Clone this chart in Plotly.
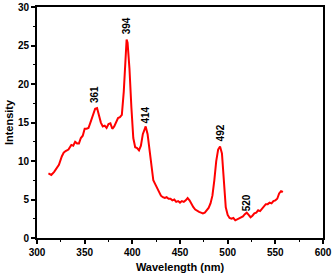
import plotly.graph_objects as go

wavelength = [312, 315, 318, 320, 323, 326, 328, 330, 333, 336, 338, 340, 342, 344, 346, 348, 350, 352,
              354, 356, 358, 360, 361, 363, 365, 367, 369, 371, 373, 375, 377, 379, 381, 383, 385, 387,
              389, 391, 393, 394, 395, 397, 399, 401, 403, 405, 407, 409, 411, 413, 414, 416, 418, 420,
              422, 424, 426, 428, 430, 432, 434, 436, 438, 440, 442, 444, 446, 448, 450, 452, 454, 456,
              458, 460, 462, 464, 466, 468, 470, 472, 474, 476, 478, 480, 482, 484, 486, 488, 490, 492,
              494, 496, 498, 500, 502, 504, 506, 508, 510, 512, 514, 516, 518, 520, 522, 524, 526, 528,
              530, 532, 534, 536, 538, 540, 542, 544, 546, 548, 550, 552, 554, 556, 558]
intensity = [8.4, 8.2, 8.6, 9.0, 9.5, 10.6, 11.1, 11.3, 11.5, 12.1, 12.0, 12.5, 12.3, 12.3, 13.0, 13.3, 14.2, 14.2,
             14.3, 15.0, 15.8, 16.3, 16.8, 16.9, 16.0, 15.0, 14.5, 14.6, 14.3, 14.8, 14.9, 14.2, 14.5, 15.0, 15.6, 15.7,
             16.0, 19.0, 24.5, 25.8, 25.4, 22.0, 17.0, 13.0, 11.8, 11.7, 11.4, 12.0, 13.5, 14.3, 14.5, 13.5, 11.5, 9.5,
             7.5, 7.0, 6.5, 6.0, 5.5, 5.3, 5.2, 5.3, 5.1, 5.1, 4.9, 5.0, 4.7, 4.8, 4.6, 4.8, 4.7, 4.9,
             5.2, 4.9, 4.4, 4.0, 3.7, 3.5, 3.4, 3.3, 3.2, 3.3, 3.6, 3.9, 4.5, 5.5, 7.5, 10.0, 11.5, 11.9,
             11.0, 7.0, 4.0, 3.0, 2.6, 2.5, 2.6, 2.3, 2.4, 2.5, 2.6, 2.8, 3.1, 3.3, 3.0, 2.7, 2.9, 3.2,
             3.3, 3.6, 3.5, 3.8, 4.0, 4.4, 4.4, 4.6, 4.5, 4.8, 4.9, 5.1, 5.8, 6.1, 6.0]

peak_labels = ["361", "394", "414", "492", "520"]
peak_x = [361, 394, 414, 492, 520]
peak_y = [18.6, 27.6, 16.0, 13.6, 4.6]

x_ticks = [300, 350, 400, 450, 500, 550, 600]
y_ticks = [0, 5, 10, 15, 20, 25, 30]

FONT = "Liberation Sans, Arial"

fig = go.Figure()
fig.add_trace(go.Scatter(x=wavelength, y=intensity, mode="lines",
                         line=dict(color="#ff0000", width=2), showlegend=False, hoverinfo="skip"))
for t, xx, yy in zip(peak_labels, peak_x, peak_y):
    fig.add_annotation(x=xx, y=yy, text="<b>%s</b>" % t, showarrow=False, textangle=-90,
                       font=dict(size=10, color="black", family=FONT))

axis_common = dict(showline=True, linecolor="black", linewidth=2, mirror=True, showgrid=False,
                   zeroline=False, ticks="outside", ticklen=4, tickwidth=1.5, tickcolor="black",
                   automargin=False, ticklabeloverflow="allow",
                   tickfont=dict(size=10, color="black", family=FONT, weight="bold"))
fig.update_xaxes(range=[300, 600], tickvals=x_ticks,
                 minor=dict(ticks="outside", ticklen=2, tickwidth=1, tickcolor="black", dtick=25, tick0=300),
                 title=dict(text="<b>Wavelength (nm)</b>", standoff=6,
                            font=dict(size=11, color="black", family=FONT)),
                 **axis_common)
fig.update_yaxes(range=[0, 30.03], tickvals=y_ticks,
                 minor=dict(ticks="outside", ticklen=2, tickwidth=1, tickcolor="black", dtick=2.5, tick0=0),
                 title=dict(text="<b>Intensity</b>", standoff=2,
                            font=dict(size=11, color="black", family=FONT)),
                 **axis_common)
fig.update_layout(width=332, height=277, margin=dict(l=37, r=9, t=7, b=39),
                  plot_bgcolor="white", paper_bgcolor="white")

html = fig.to_html(full_html=True, include_plotlyjs=True, config={"displayModeBar": False})
html = html.replace("<body>", '<body style="margin:0;overflow:hidden">', 1)
with open("out.html", "w", encoding="utf-8") as f:
    f.write(html)
